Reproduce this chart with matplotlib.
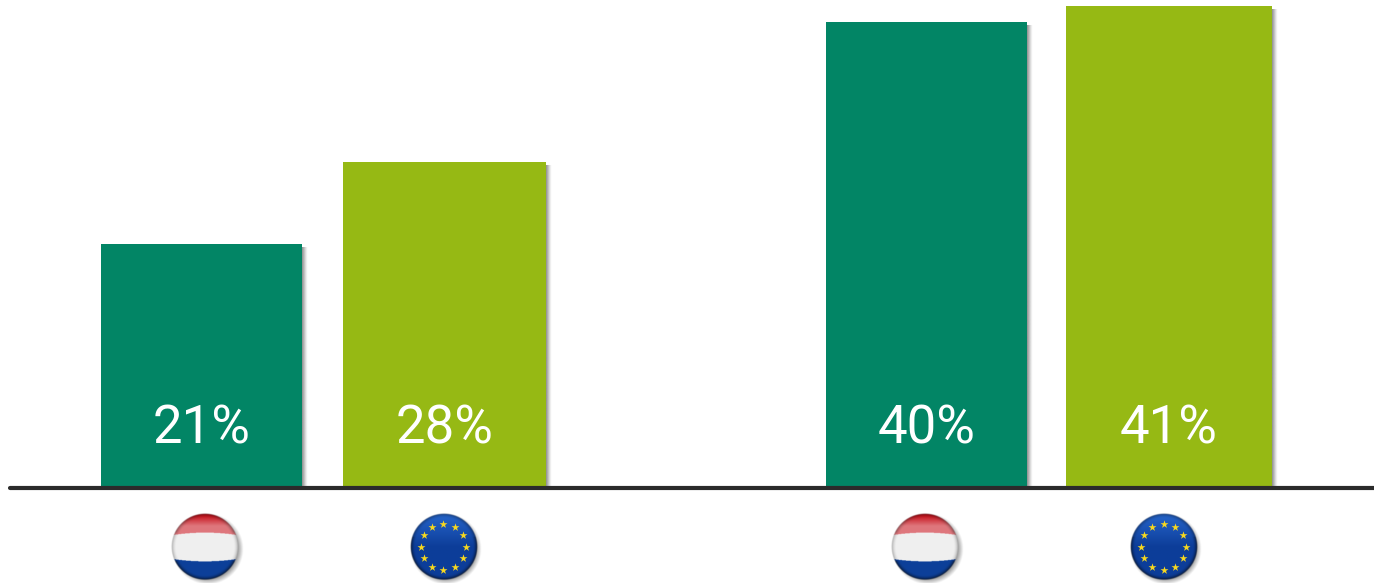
import numpy as np
import matplotlib
matplotlib.use('Agg')
import matplotlib.pyplot as plt

# ---- data ----
labels = ['21%', '28%', '40%', '41%']
values = [20.86, 27.93, 40.0, 41.38]
colors = ['#028565', '#96b914', '#028565', '#96b914']
flags = ['nl', 'eu', 'nl', 'eu']

# ---- layout (pixels) ----
W, H = 1374, 583
bar_left = [101, 343, 826, 1066]
bar_width = [201, 203, 201, 206]
flag_x = [205, 443.3, 925, 1163.5]
flag_y = 546.8
flag_r = 33.5
px_per_unit = 11.6
base_px = 486

fig = plt.figure(figsize=(W / 100, H / 100), dpi=100, facecolor='white')
ax = fig.add_axes([0, 0, 1, 1])
ax.axis('off')

ylim = (-(H - base_px) / px_per_unit, base_px / px_per_unit)

# soft shadow to the right of each bar
shade = np.zeros((1, 8, 4))
shade[..., :3] = 0.4
shade[0, :, 3] = np.linspace(0.75, 0.0, 8) ** 1.2
for l, w, v in zip(bar_left, bar_width, values):
    ax.imshow(shade, extent=(l + w, l + w + 6, 0, v - 0.3), aspect='auto',
              interpolation='bilinear', zorder=1)

ax.bar(bar_left, values, width=bar_width, align='edge', color=colors, zorder=2, linewidth=0)

for l, w, t in zip(bar_left, bar_width, labels):
    ax.text(l + w / 2, 3.7, t, color='white', ha='center', va='baseline',
            fontsize=38, family=['Roboto', 'DejaVu Sans'], zorder=3)

ax.plot([10, W], [-0.13, -0.13], color='#2b2b2b', lw=3.0, solid_capstyle='round', zorder=4)


def flag_image(kind, n=201):
    t = np.linspace(-1.12, 1.12, n)
    x, y = np.meshgrid(t, t)  # y grows downward
    r = np.hypot(x, y)
    img = np.ones((n, n, 3))
    if kind == 'nl':
        top = -0.42 + 0.08 * x ** 2
        bot = 0.44 - 0.08 * x ** 2
        img[:] = (0.94, 0.94, 0.94)
        img[y > bot] = (0.05, 0.25, 0.60)
        red = y < top
        img[red] = (0.78, 0.08, 0.12)
        # pale gloss on the red band
        g = np.clip((y + 0.92) / 0.30, 0, 1) * 0.42 * red
        img = img * (1 - g[..., None]) + g[..., None]
    else:
        img[:] = (0.05, 0.24, 0.60)
        img += (np.clip(-y, 0, 1) * 0.20)[..., None] * np.array([0.5, 0.8, 1.0])
    # dark rim
    rim = np.clip((r - 0.84) / 0.16, 0, 1) ** 2
    rim_strength = np.where(y > -0.3, 0.8, 0.5)
    if kind == 'nl':
        rim_strength = np.where(np.abs(y) < 0.42, 0.35, rim_strength)
    img *= 1 - (rim * rim_strength)[..., None]
    img = np.clip(img, 0, 1)
    alpha = np.clip((1.0 - r) * 30, 0, 1)
    return np.dstack([img, alpha])


def shadow_image(n=121):
    t = np.linspace(-1.3, 1.3, n)
    x, y = np.meshgrid(t, t)
    r = np.hypot(x, y)
    out = np.zeros((n, n, 4))
    out[..., :3] = 0.35
    out[..., 3] = np.clip((1.06 - r) / 0.16, 0, 1) * 0.55
    return out


# overlay axes for the flag badges, in pixel coordinates
ov = fig.add_axes([0, 0, 1, 1])
ov.axis('off')
ov.patch.set_alpha(0)
shad = shadow_image()
for cx, kind in zip(flag_x, flags):
    s = flag_r * 1.3
    ov.imshow(shad, extent=(cx + 2.5 - s, cx + 2.5 + s, flag_y + 2.5 + s, flag_y + 2.5 - s),
              aspect='auto', interpolation='bilinear', zorder=1)
    s = flag_r * 1.12
    ov.imshow(flag_image(kind), extent=(cx - s, cx + s, flag_y + s, flag_y - s),
              aspect='auto', interpolation='bilinear', zorder=2)
    if kind == 'eu':
        ang = np.deg2rad(np.arange(12) * 30)
        ov.scatter(cx + 0.68 * flag_r * np.sin(ang), flag_y - 0.68 * flag_r * np.cos(ang),
                   marker='*', s=36, color='#f7d81f', linewidths=0, zorder=3)

ov.set_xlim(0, W)
ov.set_ylim(H, 0)
ax.set_xlim(0, W)
ax.set_ylim(*ylim)

fig.savefig('out.png', dpi=100, facecolor='white')
